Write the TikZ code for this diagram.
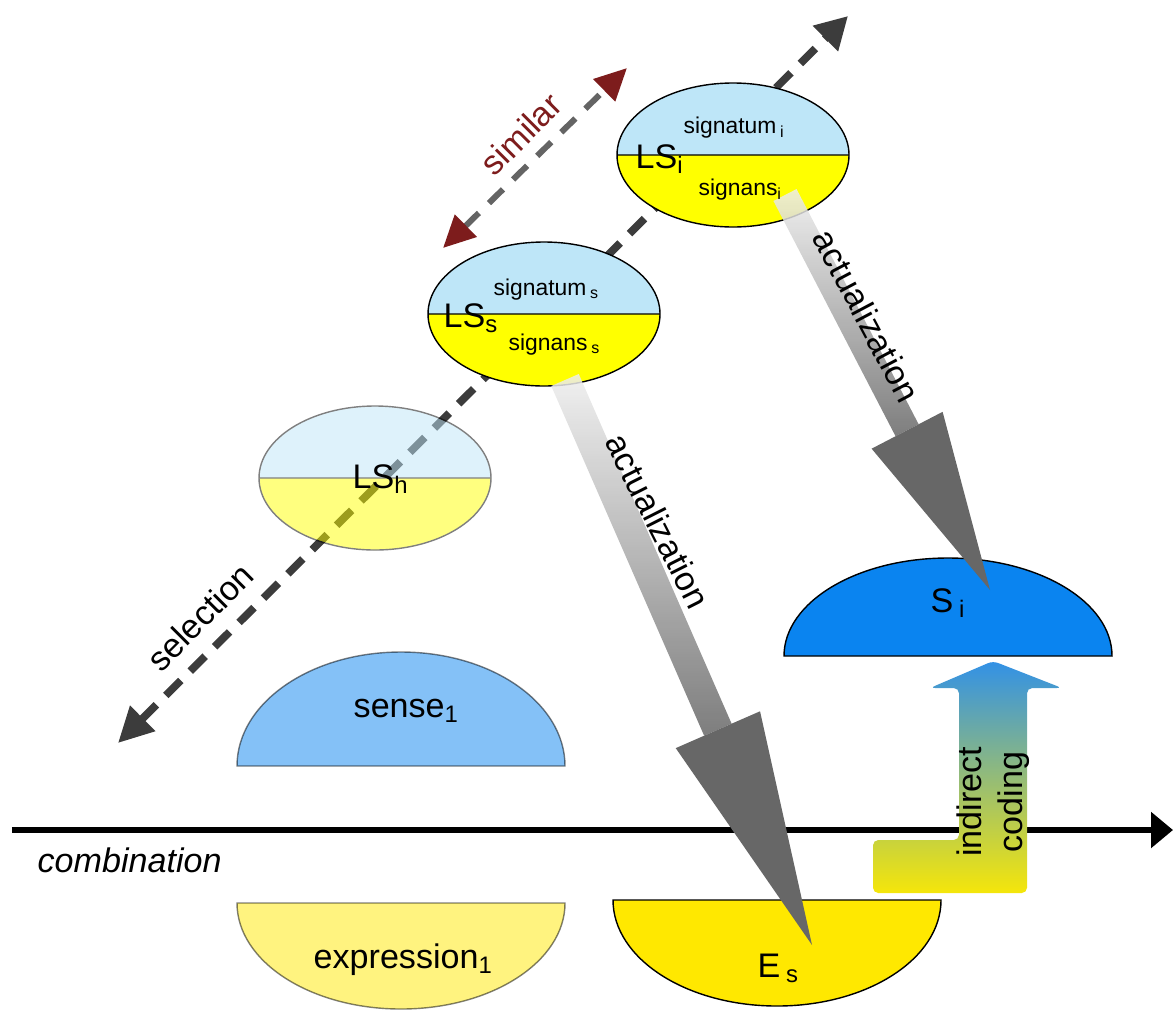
\documentclass[tikz,border=0pt]{standalone}
\usepackage{fontspec}
\setmainfont{Liberation Sans}
\usetikzlibrary{arrows.meta,calc}

\definecolor{sigblue}{RGB}{190,230,248}
\definecolor{sigyellow}{RGB}{255,255,0}
\definecolor{senseblue}{RGB}{10,132,240}
\definecolor{expryellow}{RGB}{255,232,0}
\definecolor{dashgray}{RGB}{60,60,60}
\definecolor{simgray}{RGB}{100,100,100}
\definecolor{simred}{RGB}{125,28,28}
\definecolor{headgray}{RGB}{103,103,103}
\definecolor{shaftgray}{RGB}{238,238,238}
\definecolor{codeblue}{RGB}{50,145,230}
\definecolor{codemid}{RGB}{120,160,130}
\definecolor{codeyellow}{RGB}{245,230,10}

\begin{document}
\begin{tikzpicture}[
    font=\fontsize{9.7}{11.6}\selectfont,
    lab/.style={inner sep=0, anchor=base west},
    smalllab/.style={lab, font=\fontsize{6.5}{8}\selectfont},
    faded/.style={opacity=0.5},
    rim/.style={draw=black, line width=0.4pt},
    selline/.style={line width=2.2pt, dashgray, dash pattern=on 6pt off 3.8pt,
        {Triangle[length=0.35cm,width=0.34cm]}-{Triangle[length=0.32cm,width=0.34cm]}},
    simline/.style={line width=1.7pt, simgray, dash pattern=on 5.6pt off 4pt,
        {Triangle[length=0.32cm,width=0.30cm,color=simred]}-{Triangle[length=0.32cm,width=0.30cm,color=simred]}}
]
    \useasboundingbox (0,0) rectangle (11.73,10.12);

    % dashed axes
    \coordinate (sel-a) at (1.18,2.69);
    \coordinate (sel-b) at (8.48,9.96);
    \coordinate (sim-a) at (4.43,7.64);
    \coordinate (sim-b) at (6.27,9.44);
    \draw[selline] (sel-a) -- (sel-b);
    \draw[simline] (sim-a) -- (sim-b);

    % combination axis
    \coordinate (ax-a) at (0.12,1.82);
    \coordinate (ax-b) at (11.73,1.82);
    \draw[line width=1.7pt, -{Triangle[length=0.22cm,width=0.35cm]}] (ax-a) -- (ax-b);

    % linguistic signs
    \foreach \n/\x/\y/\op in {lsh/3.75/5.34/0.5, lss/5.44/6.98/1, lsi/7.33/8.57/1} {
        \begin{scope}[transparency group, opacity=\op]
            \coordinate (\n) at (\x,\y);
            \fill[sigblue] (\x-1.16,\y) arc[start angle=180, end angle=0, x radius=1.16, y radius=0.72] -- cycle;
            \fill[sigyellow] (\x-1.16,\y) arc[start angle=180, end angle=360, x radius=1.16, y radius=0.72] -- cycle;
            \draw[rim] (\n) ellipse[x radius=1.16, y radius=0.72] (\x-1.16,\y) -- (\x+1.16,\y);
        \end{scope}
    }

    % senses and expressions
    \coordinate (sense) at (4.01,2.46);
    \coordinate (si) at (9.48,3.56);
    \coordinate (expr) at (4.01,1.09);
    \coordinate (es) at (7.77,1.12);
    \draw[rim, faded, fill=senseblue] ($(sense)+(-1.64,0)$) arc[start angle=180, end angle=0, x radius=1.64, y radius=1.14] -- cycle;
    \draw[rim, fill=senseblue] ($(si)+(-1.64,0)$) arc[start angle=180, end angle=0, x radius=1.64, y radius=0.98] -- cycle;
    \draw[rim, faded, fill=expryellow] ($(expr)+(-1.64,0)$) arc[start angle=180, end angle=360, x radius=1.64, y radius=1.06] -- cycle;
    \draw[rim, fill=expryellow] ($(es)+(-1.64,0)$) arc[start angle=180, end angle=360, x radius=1.64, y radius=1.06] -- cycle;

    % actualization
    \foreach \a/\sx/\sy/\tx/\ty/\h/\w/\v in {act1/5.65/6.32/8.12/0.67/2.35/0.46/0.15, act2/7.85/8.17/9.90/4.22/1.80/0.40/0.13} {
        \coordinate (\a-s) at (\sx,\sy);
        \coordinate (\a-t) at (\tx,\ty);
        \coordinate (\a-b) at ($(\a-t)!\h cm!(\a-s)$);
        \shade[top color=shaftgray, bottom color=headgray, fill opacity=0.85]
            ($(\a-s)!\v cm!90:(\a-t)$) -- ($(\a-b)!\v cm!90:(\a-t)$) -- ($(\a-b)!\v cm!-90:(\a-t)$) -- ($(\a-s)!\v cm!-90:(\a-t)$) -- cycle;
        \fill[headgray] ($(\a-b)!\w cm!90:(\a-t)$) -- (\a-t) -- ($(\a-b)!\w cm!-90:(\a-t)$) -- cycle;
    }

    % indirect coding
    \coordinate (ic-tip) at (9.93,3.51);
    \shade[top color=codeblue, middle color=codemid, bottom color=codeyellow, rounded corners=1.5pt]
        (8.73,1.72) -- (9.59,1.72) -- (9.59,3.24) -- (9.30,3.24) -- (ic-tip) -- (10.62,3.24)
        -- (10.27,3.24) -- (10.27,1.19) -- (8.73,1.19) -- cycle;

    % labels
    \node[lab] (t-lsi) at (6.35,8.44) {LS\textsubscript{i}};
    \node[smalllab] (t-sgti) at (6.83,8.79) {signatum\,\textsubscript{i}};
    \node[smalllab] (t-sgni) at (6.98,8.17) {signans\textsubscript{i}};
    \node[lab] (t-lss) at (4.43,6.85) {LS\textsubscript{s}};
    \node[smalllab] (t-sgts) at (4.93,7.17) {signatum\,\textsubscript{s}};
    \node[smalllab] (t-sgns) at (5.08,6.62) {signans\,\textsubscript{s}};
    \node[lab] (t-lsh) at (3.52,5.24) {LS\textsubscript{h}};
    \node[lab] (t-sense) at (3.53,2.95) {sense\textsubscript{1}};
    \node[lab] (t-expr) at (3.13,0.44) {expression\textsubscript{1}};
    \node[lab] (t-es) at (7.57,0.35) {E\,\textsubscript{s}};
    \node[lab] (t-si) at (9.30,4.00) {S\,\textsubscript{i}};
    \node[lab] (t-comb) at (0.37,1.40) {\itshape combination};
    \node[rotate=45] (t-sel) at (2.00,3.95) {selection};
    \node[rotate=45, text=simred] (t-sim) at (5.21,8.78) {similar};
    \node[rotate=-63.2] (t-act1) at (6.58,4.91) {actualization};
    \node[rotate=-62.1] (t-act2) at (8.67,6.96) {actualization};
    \node[rotate=90, align=center] (t-ic) at (9.93,2.10) {indirect\\coding};
\end{tikzpicture}
\end{document}
